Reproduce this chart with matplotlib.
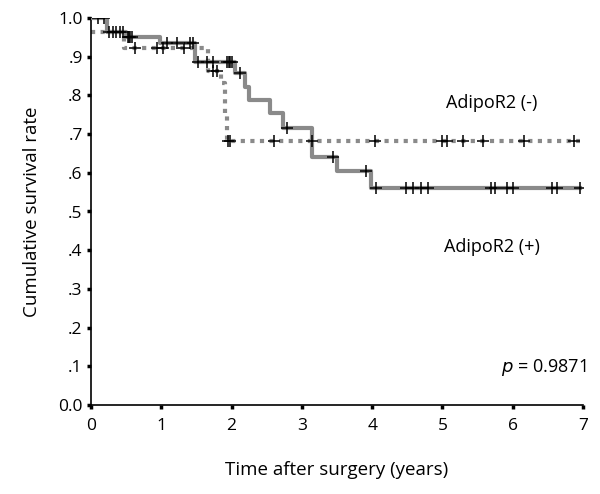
import numpy as np
import matplotlib
matplotlib.use("Agg")
import matplotlib.pyplot as plt

# AdipoR2 (+) : solid line
pos_t = [0, 0.23, 0.50, 0.98, 1.48, 2.05, 2.19, 2.25, 2.55, 2.73, 3.15, 3.50, 3.98, 6.96]
pos_s = [1.0, 0.965, 0.951, 0.935, 0.886, 0.858, 0.822, 0.787, 0.755, 0.716, 0.641, 0.605, 0.561, 0.561]
pos_cens = [0.10, 0.18, 0.26, 0.31, 0.36, 0.41, 0.46, 0.52, 0.54, 0.56, 0.58,
            1.08, 1.22, 1.41, 1.45, 1.52, 1.65, 1.74, 1.94, 1.96, 1.98, 2.00,
            2.12, 2.79, 3.44, 3.91, 4.05, 4.48, 4.58, 4.69, 4.79,
            5.69, 5.75, 5.92, 6.00, 6.56, 6.63, 6.96]

# AdipoR2 (-) : dotted line
neg_t = [0, 0.47, 1.66, 1.85, 1.91, 1.94, 6.96]
neg_s = [0.965, 0.922, 0.862, 0.832, 0.75, 0.681, 0.681]
neg_cens = [0.63, 0.94, 1.03, 1.33, 1.74, 1.79, 1.95, 1.98, 2.60, 3.14, 4.04,
            4.99, 5.06, 5.29, 5.58, 6.16, 6.87]

xticks = [0, 1, 2, 3, 4, 5, 6, 7]
yticks = [0.0, 0.1, 0.2, 0.3, 0.4, 0.5, 0.6, 0.7, 0.8, 0.9, 1.0]
ytick_labels = ["0.0", ".1", ".2", ".3", ".4", ".5", ".6", ".7", ".8", ".9", "1.0"]

plt.rcParams['font.family'] = ['Open Sans', 'DejaVu Sans']

fig = plt.figure(figsize=(6.0, 4.94), dpi=100)
ax = fig.add_axes([91/600, 1-405/494, 492/600, 387/494])

def surv_at(ts, ss, t):
    idx = np.searchsorted(ts, t, side='right') - 1
    return np.asarray(ss)[idx]

gray = '#8a8a8a'
ax.step(neg_t, neg_s, where='post', color=gray, lw=3.0,
        linestyle=(0, (1.0, 1.3)), solid_capstyle='butt', dash_capstyle='butt', zorder=2)
ax.step(pos_t, pos_s, where='post', color=gray, lw=3.0, zorder=3)

ax.plot(pos_cens, surv_at(pos_t, pos_s, pos_cens), linestyle='none', marker='+',
        color='black', ms=8, mew=1.1, zorder=4)
ax.plot(neg_cens, surv_at(neg_t, neg_s, neg_cens), linestyle='none', marker='+',
        color='black', ms=8, mew=1.1, zorder=4)

ax.set_xlim(0, 7)
ax.set_ylim(0, 1.0)
ax.set_xticks(xticks)
ax.set_yticks(yticks)
ax.set_yticklabels(ytick_labels)
for s in ['top', 'right']:
    ax.spines[s].set_visible(False)
for s in ['left', 'bottom']:
    ax.spines[s].set_linewidth(1.2)
    ax.spines[s].set_clip_on(False)
ax.tick_params(direction='out', length=3, width=2.5, labelsize=12.5)
ax.tick_params(axis='x', pad=6)
ax.tick_params(axis='y', pad=3)

ax.set_xlabel('Time after surgery (years)', fontsize=13.5, labelpad=20)
ax.set_ylabel('Cumulative survival rate', fontsize=13.5, labelpad=12)

ax.text(0.815, 0.78, 'AdipoR2 (-)', transform=ax.transAxes, ha='center', va='center', fontsize=13)
ax.text(0.815, 0.408, 'AdipoR2 (+)', transform=ax.transAxes, ha='center', va='center', fontsize=13)
ax.text(0.92, 0.098, r'$p$ = 0.9871', transform=ax.transAxes, ha='center', va='center', fontsize=13)

fig.savefig('out.png', dpi=100)
